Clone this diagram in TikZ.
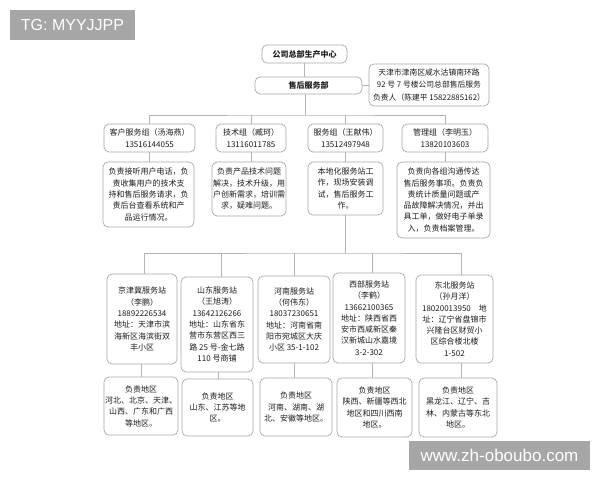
\documentclass[tikz,border=0pt]{standalone}
\usepackage{fontspec}
\setmainfont{Noto Sans CJK SC}
\newfontfamily\wmfont{Liberation Sans}
\definecolor{boxgray}{HTML}{A8A8A8}
\definecolor{linegray}{HTML}{B4B4B4}
\definecolor{txt}{HTML}{1E1E1E}
\definecolor{wmgray}{HTML}{A6A6A6}
\tikzset{
  box/.style={draw=boxgray, line width=0.7pt, rounded corners=5pt, fill=white, align=center,
    inner sep=1pt, text=txt, font=\fontsize{8}{11.3}\selectfont},
  conn/.style={draw=linegray, line width=0.7pt},
  wmbox/.style={fill=wmgray, text=white, inner sep=0pt, font=\wmfont}
}
\begin{document}
\begin{tikzpicture}[x=1pt,y=-1pt]
\useasboundingbox (0,0) rectangle (600,480);
% watermarks
\node[wmbox, minimum width=125pt, minimum height=30pt, font=\wmfont\fontsize{16}{18}\selectfont] (wm1) at (72.5,25) {TG: MYYJJPP};
\node[wmbox, minimum width=181pt, minimum height=29pt, font=\wmfont\fontsize{17}{19}\selectfont] (wm2) at (499.5,455.5) {www.zh-oboubo.com};
% top
\node[box, minimum width=85pt, minimum height=18pt, font=\bfseries\fontsize{8}{10}\selectfont] (hq) at (304.5,54) {公司总部生产中心};
\node[box, minimum width=107pt, minimum height=17pt, font=\bfseries\fontsize{8}{10}\selectfont] (sh) at (308.5,85.5) {售后服务部};
\node[box, minimum width=120pt, minimum height=42pt, font=\fontsize{7.8}{12.3}\selectfont] (addr) at (429,85) {天津市津南区咸水沽镇南环路\\92 号 7 号楼公司总部售后服务\\负责人（陈建平 15822885162）};
% groups
\node[box, minimum width=91pt, minimum height=28pt, font=\fontsize{8}{12.5}\selectfont] (g1) at (149.5,138) {客户服务组（汤海燕）\\13516144055};
\node[box, minimum width=70pt, minimum height=28pt, font=\fontsize{8}{12.5}\selectfont] (g2) at (251,138) {技术组（臧珂）\\13116011785};
\node[box, minimum width=75pt, minimum height=28pt, font=\fontsize{8}{12.5}\selectfont] (g3) at (345.5,138) {服务组（王献伟）\\13512497948};
\node[box, minimum width=86pt, minimum height=28pt, font=\fontsize{8}{12.5}\selectfont] (g4) at (445,138) {管理组（李明玉）\\13820103603};
% descriptions
\node[box, minimum width=91pt, minimum height=65pt] (d1) at (148.5,194.5) {负责接听用户电话，负\\责收集用户的技术支\\持和售后服务请求，负\\责后台查看系统和产\\品运行情况。};
\node[box, minimum width=74pt, minimum height=54pt] (d2) at (249,189) {负责产品技术问题\\解决，技术升级，用\\户创新需求，培训需\\求，疑难问题。};
\node[box, minimum width=75pt, minimum height=53pt] (d3) at (345.5,188.5) {本地化服务站工\\作，现场安装调\\试，售后服务工\\作。};
\node[box, minimum width=93pt, minimum height=76pt] (d4) at (443.5,200) {负责向各组沟通传达\\售后服务事项。负责负\\责统计质量问题或产\\品故障解决情况，并出\\具工单，做好电子单录\\入，负责档案管理。};
% stations
\node[box, minimum width=70pt, minimum height=90pt] (s1) at (142,319) {京津冀服务站\\（李鹏）\\18892226534\\地址：天津市滨\\海新区海滨街双\\丰小区};
\node[box, minimum width=72pt, minimum height=95pt] (s2) at (217,324.5) {山东服务站\\（王旭涛）\\13642126266\\地址：山东省东\\营市东营区西三\\路 25 号-金七路\\110 号商铺};
\node[box, minimum width=72pt, minimum height=87pt] (s3) at (294,319.5) {河南服务站\\（何伟东）\\18037230651\\地址：河南省南\\阳市宛城区大庆\\小区 35-1-102};
\node[box, minimum width=72pt, minimum height=90pt] (s4) at (369,318) {西部服务站\\（李鹤）\\13662100365\\地址：陕西省西\\安市西咸新区秦\\汉新城山水嘉境\\3-2-302};
\node[box, minimum width=77pt, minimum height=88pt] (s5) at (454.5,319) {东北服务站\\（孙月洋）\\18020013950　地\\址：辽宁省盘锦市\\兴隆台区财贸小\\区综合楼北楼\\1-502};
% regions
\node[box, minimum width=74pt, minimum height=58pt] (b1) at (141,406) {负责地区\\河北、北京、天津、\\山西、广东和广西\\等地区。};
\node[box, minimum width=71pt, minimum height=57pt] (b2) at (217.5,407.5) {负责地区\\山东、江苏等地\\区。};
\node[box, minimum width=72pt, minimum height=58pt] (b3) at (296,407) {负责地区\\河南、湖南、湖\\北、安徽等地区。};
\node[box, minimum width=75pt, minimum height=59pt] (b4) at (374.5,407.5) {负责地区\\陕西、新疆等西北\\地区和四川西南\\地区。};
\node[box, minimum width=78pt, minimum height=59pt] (b5) at (458,407.5) {负责地区\\黑龙江、辽宁、吉\\林、内蒙古等东北\\地区。};
% connectors
\coordinate (busG) at (305,115);
\coordinate (busS) at (345.5,253);
\draw[conn] (hq.south) -- (hq.south |- sh.north);
\draw[conn] (sh.east) -- (addr.west |- sh.east);
\draw[conn] (sh.south -| busG) -- (busG);
\draw[conn] (g1.north) |- (busG) -| (g4.north);
\draw[conn] (g2.north) -- (g2.north |- busG);
\draw[conn] (g3.north) -- (g3.north |- busG);
\draw[conn] (g1.south) -- (g1.south |- d1.north);
\draw[conn] (g2.south) -- (g2.south |- d2.north);
\draw[conn] (g3.south) -- (g3.south |- d3.north);
\draw[conn] (g4.south) -- (g4.south |- d4.north);
\draw[conn] (d3.south) -- (busS);
\draw[conn] ([xshift=2pt]s1.north) |- (busS) -| ([xshift=6.5pt]s5.north);
\draw[conn] ([xshift=4pt]s2.north) -- ([xshift=4pt]s2.north |- busS);
\draw[conn] (s3.north) -- (s3.north |- busS);
\draw[conn] ([xshift=3pt]s4.north) -- ([xshift=3pt]s4.north |- busS);
\draw[conn] ([xshift=-1pt]s1.south) -- ([xshift=-1pt]s1.south |- b1.north);
\draw[conn] ([xshift=1pt]s2.south) -- ([xshift=1pt]s2.south |- b2.north);
\draw[conn] (s3.south) -- (s3.south |- b3.north);
\draw[conn] ([xshift=3pt]s4.south) -- ([xshift=3pt]s4.south |- b4.north);
\draw[conn] ([xshift=6.5pt]s5.south) -- ([xshift=6.5pt]s5.south |- b5.north);
\end{tikzpicture}
\end{document}
